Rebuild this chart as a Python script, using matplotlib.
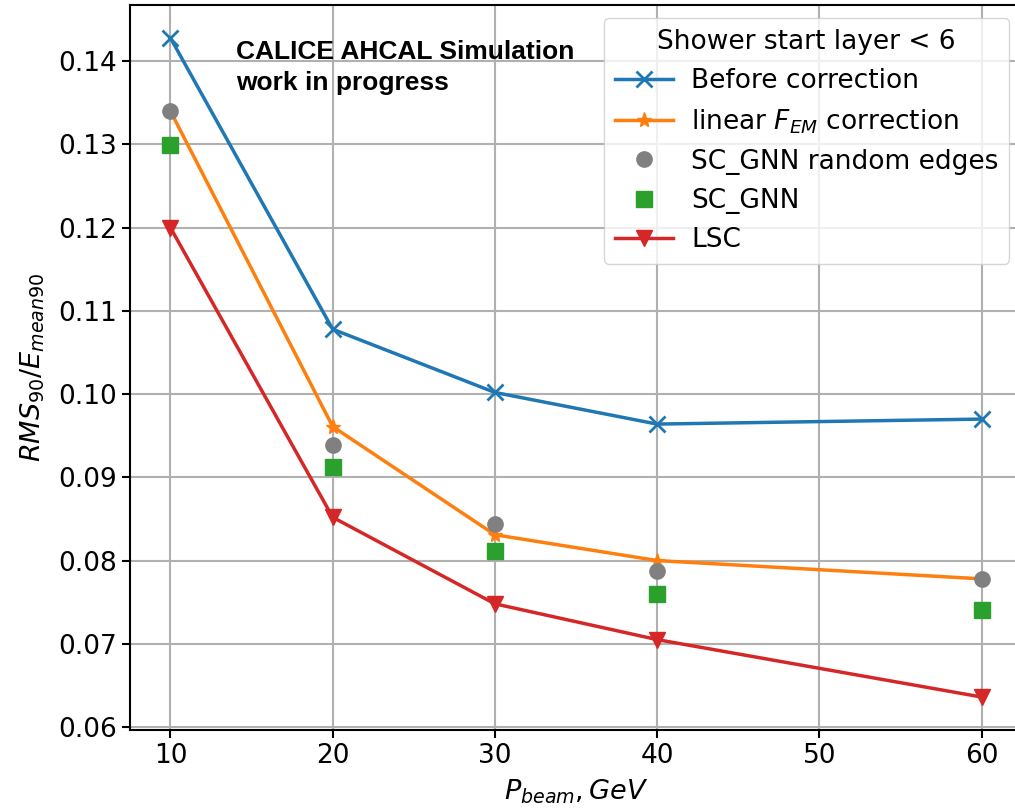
import matplotlib
matplotlib.use("Agg")
import matplotlib.pyplot as plt

# beam momentum, GeV (no point at 50)
p_beam = [10, 20, 30, 40, 60]

before_corr = [0.1428, 0.1078, 0.1002, 0.0964, 0.0970]
linear_fem = [0.1340, 0.0961, 0.0831, 0.0800, 0.0778]
gnn_random = [0.1340, 0.0939, 0.0844, 0.0788, 0.0778]
sc_gnn = [0.1299, 0.0913, 0.0811, 0.0760, 0.0741]
lsc = [0.1200, 0.0852, 0.0748, 0.0705, 0.0636]

fig = plt.figure(figsize=(10.15, 8.1), dpi=100)
ax = fig.add_axes([0.128, 0.0988, 0.879, 0.895])

ax.plot(p_beam, before_corr, color="C0", marker="x", ms=11, mew=2, lw=2.5,
        label="Before correction")
ax.plot(p_beam, linear_fem, color="C1", marker="*", ms=11, lw=2.5,
        label="linear $F_{EM}$ correction")
ax.plot(p_beam, gnn_random, color="grey", marker="o", ms=11, ls="none",
        label="SC_GNN random edges")
ax.plot(p_beam, sc_gnn, color="C2", marker="s", ms=11, ls="none",
        label="SC_GNN")
ax.plot(p_beam, lsc, color="C3", marker="v", ms=12, lw=2.5, label="LSC")

ax.grid(True, color="#b0b0b0", lw=1.5)
ax.set_axisbelow(True)
ax.tick_params(labelsize=19, length=6, width=1.5)
for s in ax.spines.values():
    s.set_linewidth(1.5)

ax.set_xlabel("$P_{beam}, GeV$", fontsize=19.5, labelpad=6)
ax.set_ylabel("$RMS_{90}/E_{mean90}$", fontsize=19.5, labelpad=8)

ax.text(14.05, 0.1426, "CALICE AHCAL Simulation\nwork in progress",
        fontsize=19, fontweight="bold", family="Liberation Sans",
        ha="left", va="top", linespacing=1.4)

ax.legend(title="Shower start layer < 6", loc="upper right", fontsize=19,
          title_fontsize=19, bbox_to_anchor=(0.9854, 0.982), borderaxespad=0,
          handlelength=2.2, handletextpad=0.7)

plt.savefig("out.png", dpi=100)
